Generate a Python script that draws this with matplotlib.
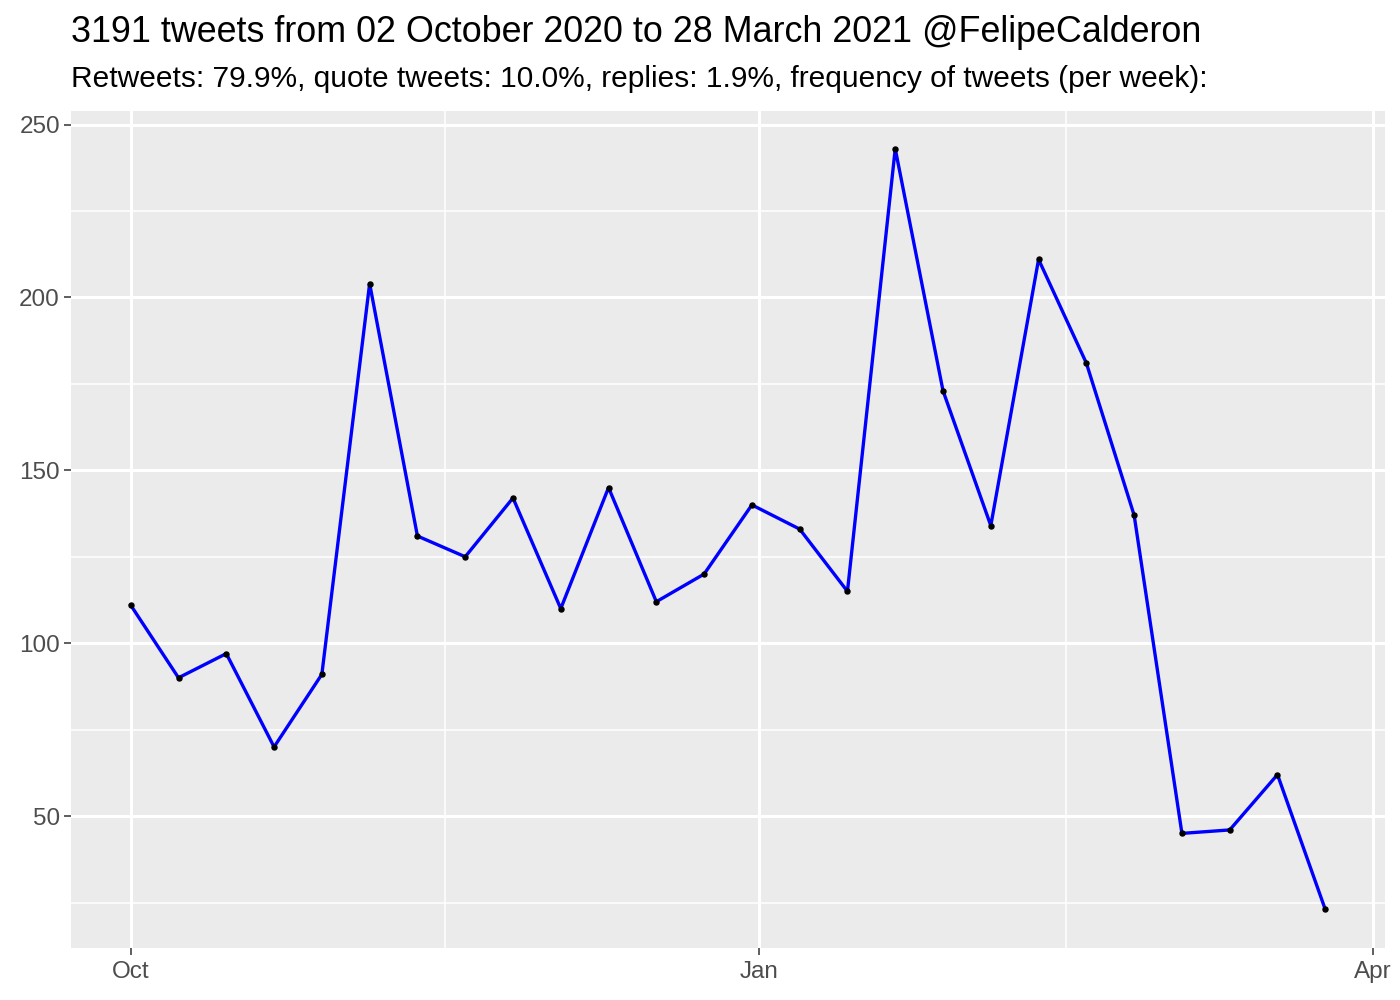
import matplotlib
matplotlib.use("Agg")
import matplotlib.pyplot as plt
import matplotlib.dates as mdates
import numpy as np
import pandas as pd

# weekly tweet counts, weeks starting 2020-10-01
week_start = "2020-10-01"
n_weeks = 26
counts = [111, 90, 97, 70, 91, 204, 131, 125, 142, 110, 145, 112, 120,
          140, 133, 115, 243, 173, 134, 211, 181, 137, 45, 46, 62, 23]

title = "3191 tweets from 02 October 2020 to 28 March 2021 @FelipeCalderon"
subtitle = ("Retweets: 79.9%, quote tweets: 10.0%, replies: 1.9%, "
            "frequency of tweets (per week):")

y_major = [50, 100, 150, 200, 250]
y_minor = [25, 75, 125, 175, 225]
x_major = ["2020-10-01", "2021-01-01", "2021-04-01"]
x_labels = ["Oct", "Jan", "Apr"]
x_minor = ["2020-11-16", "2021-02-15"]

plt.rcParams['font.family'] = ['Liberation Sans', 'DejaVu Sans']

weeks = pd.date_range(week_start, periods=n_weeks, freq="7D")
x = mdates.date2num(weeks)
y = np.array(counts)

fig = plt.figure(figsize=(14, 10), dpi=100)
ax = fig.add_axes([71 / 1400, 1 - 947.5 / 1000, (1385 - 71) / 1400, (947.5 - 110.7) / 1000])
ax.set_facecolor("#EBEBEB")
for s in ax.spines.values():
    s.set_visible(False)

xr = x.max() - x.min()
yr = y.max() - y.min()
ax.set_xlim(x.min() - 0.05 * xr, x.max() + 0.05 * xr)
ax.set_ylim(y.min() - 0.05 * yr, y.max() + 0.05 * yr)

xm = mdates.date2num(pd.to_datetime(x_major))
xn = mdates.date2num(pd.to_datetime(x_minor))
for v in y_minor:
    ax.axhline(v, color="white", lw=1.1, zorder=0)
for v in y_major:
    ax.axhline(v, color="white", lw=2.2, zorder=0)
for v in xn:
    ax.axvline(v, color="white", lw=1.1, zorder=0)
for v in xm:
    ax.axvline(v, color="white", lw=2.2, zorder=0)

ax.plot(x, y, color="blue", lw=2.4, zorder=2)
ax.scatter(x, y, s=13, color="black", zorder=3)

ax.set_xticks(xm)
ax.set_xticklabels(x_labels)
ax.set_yticks(y_major)
ax.tick_params(axis="both", colors="#333333", length=5, width=1.1,
               labelsize=17.5, labelcolor="#4D4D4D")
ax.tick_params(axis="x", pad=5)
ax.tick_params(axis="y", pad=3)
for lab in ax.get_xticklabels():
    lab.set_clip_on(False)

fig.text(71 / 1400, 1 - 33 / 1000, title, fontsize=25.8, va="center", ha="left", color="black")
fig.text(71 / 1400, 1 - 79 / 1000, subtitle, fontsize=21.5, va="center", ha="left", color="black")

fig.savefig("out.png", dpi=100)
